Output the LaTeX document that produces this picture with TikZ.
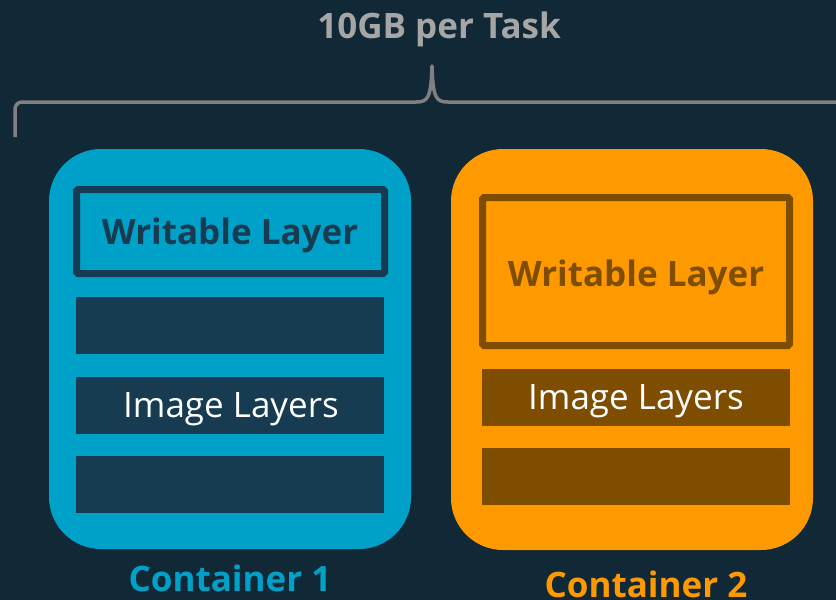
\documentclass[tikz,border=0pt]{standalone}
\usepackage{fontspec}
\setmainfont{Open Sans}
\definecolor{bg}{HTML}{112837}
\definecolor{cblue}{HTML}{00A1C9}
\definecolor{dblue}{HTML}{173C52}
\definecolor{corange}{HTML}{FF9900}
\definecolor{dbrown}{HTML}{7F4D00}
\definecolor{gline}{HTML}{808080}
\definecolor{gtext}{HTML}{A6A6A6}
\tikzset{
  container/.style={rounded corners=52pt, inner sep=0pt},
  layerbar/.style={inner sep=0pt, minimum width=308pt, minimum height=57pt},
  wbox/.style={draw, line width=7pt, inner sep=0pt, rounded corners=1.5pt},
  boldlbl/.style={font=\fontsize{35}{40}\selectfont\bfseries, inner sep=0pt, anchor=base},
  plainlbl/.style={font=\fontsize{35}{40}\selectfont, inner sep=0pt, anchor=base, text=white},
}
\begin{document}
\begin{tikzpicture}[x=1pt,y=-1pt]
\fill[bg] (0,0) rectangle (836,600);
\useasboundingbox (0,0) rectangle (836,600);
\begin{scope}
\clip (0,0) rectangle (836,600);
% brace
\coordinate (bl) at (15,137);
\coordinate (tip) at (432,66);
\coordinate (br) at (850,102);
\draw[gline, line width=3.5pt, line join=round]
  (bl) -- (15,109) to[out=90,in=180] (22,102) -- (416,102)
  .. controls (428,102) and (431,98) .. (tip)
  .. controls (433,98) and (436,102) .. (448,102) -- (br);
\node[font=\fontsize{35}{40}\selectfont\bfseries, text=gtext, anchor=base, inner sep=0pt] (title) at (439,38) {10GB per Task};

% container 1
\node[container, fill=cblue, minimum width=362pt, minimum height=400pt] (c1) at (230,349) {};
\node[wbox, draw=dblue, minimum width=308pt, minimum height=84pt] (w1) at (230.5,231.5) {};
\node[boldlbl, text=dblue] (w1t) at (230,244) {Writable Layer};
\node[layerbar, fill=dblue] (i1a) at (230,325.5) {};
\node[layerbar, fill=dblue] (i1b) at (230,405.5) {};
\node[layerbar, fill=dblue] (i1c) at (230,484.5) {};
\node[plainlbl] (i1t) at (231,417) {Image Layers};
\node[boldlbl, text=cblue] (c1t) at (230,591) {Container 1};

% container 2
\node[container, fill=corange, minimum width=362pt, minimum height=401pt] (c2) at (632,349.5) {};
\node[wbox, draw=dbrown, minimum width=307pt, minimum height=148pt] (w2) at (636,271.5) {};
\node[boldlbl, text=dbrown] (w2t) at (636,286) {Writable Layer};
\node[layerbar, fill=dbrown] (i2a) at (636,397.5) {};
\node[layerbar, fill=dbrown] (i2b) at (636,476.5) {};
\node[plainlbl] (i2t) at (636,409) {Image Layers};
\node[boldlbl, text=corange] (c2t) at (646,597) {Container 2};
\end{scope}
\end{tikzpicture}
\end{document}
